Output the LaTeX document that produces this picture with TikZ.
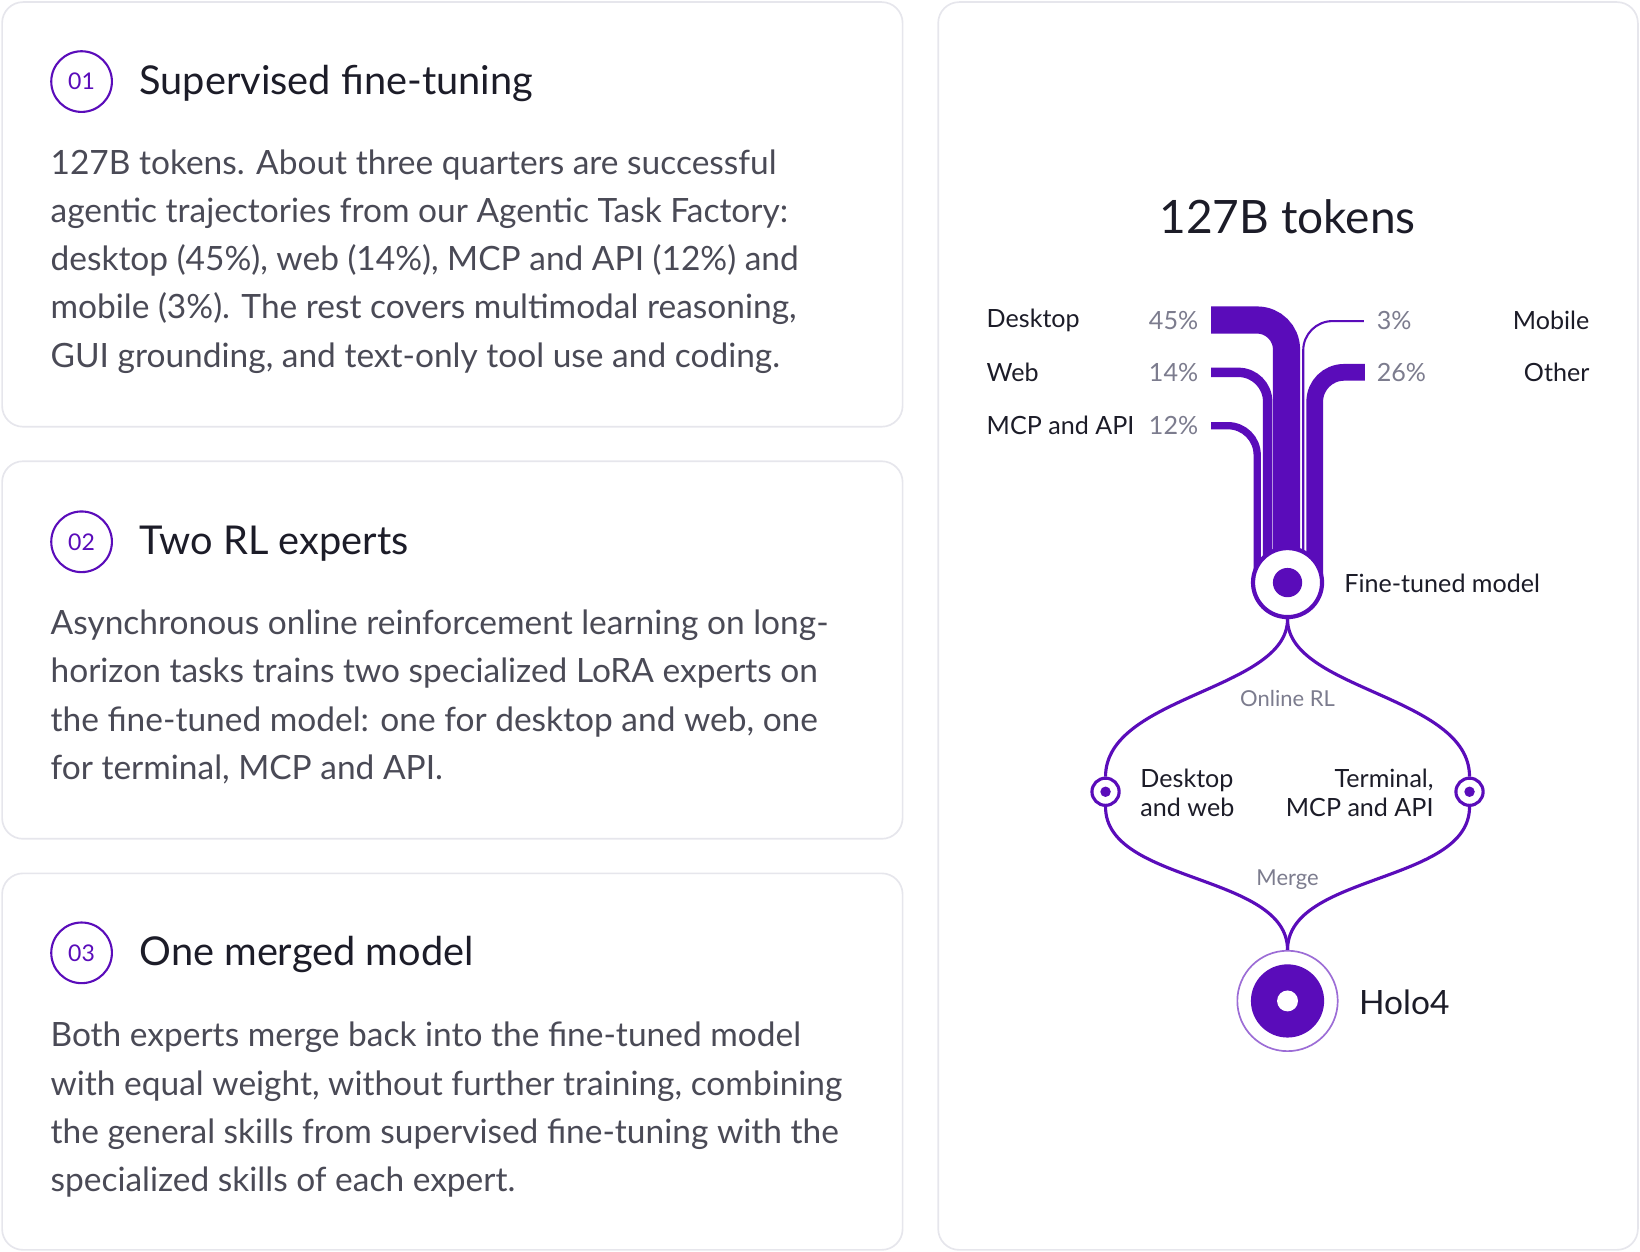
\documentclass[tikz,border=0pt]{standalone}
\usepackage{fontspec}
\setmainfont{Lato}
\usetikzlibrary{positioning}
\definecolor{holo}{HTML}{5A0CBA}
\definecolor{ink}{HTML}{1C1C28}
\definecolor{body}{HTML}{4A4A56}
\definecolor{muted}{HTML}{7C7C8E}
\definecolor{edge}{HTML}{E6E6EC}
\begin{document}
\begin{tikzpicture}[x=0.5pt,y=-0.5pt,
  card/.style={draw=edge,line width=0.8pt,rounded corners=10pt,fill=white},
  num/.style={draw=holo,circle,line width=1pt,minimum size=29pt,inner sep=0pt,text=holo,font=\fontsize{11}{13}\selectfont},
  head/.style={anchor=west,text=ink,font=\fontsize{19}{23}\selectfont,inner sep=0pt},
  txt/.style={anchor=north west,align=left,text=body,font=\fontsize{16}{23}\selectfont,inner sep=0pt},
  lab/.style={text=ink,font=\fontsize{12}{14}\selectfont,inner sep=0pt},
  pct/.style={text=muted,font=\fontsize{12}{14}\selectfont,inner sep=0pt},
  band/.style={holo,rounded corners=14pt},
  flow/.style={holo,line width=1.5pt}]
  \useasboundingbox (0,0) rectangle (1568,1197);
  % cards
  \draw[card] (2,2) rectangle (863,408);
  \draw[card] (2,441) rectangle (863,802);
  \draw[card] (2,835) rectangle (863,1195);
  \draw[card] (897,2) rectangle (1566,1195);

  % card 01
  \node[num] (n1) at (78,78) {01};
  \node[head] (h1) at (133,80) {Supervised fine-tuning};
  \node[txt] (t1) at (48,143) {127B tokens. About three quarters are successful\\agentic trajectories from our Agentic Task Factory:\\desktop (45\%), web (14\%), MCP and API (12\%) and\\mobile (3\%). The rest covers multimodal reasoning,\\GUI grounding, and text-only tool use and coding.};

  % card 02
  \node[num] (n2) at (78,518) {02};
  \node[head] (h2) at (133,520) {Two RL experts};
  \node[txt] (t2) at (48,583) {Asynchronous online reinforcement learning on long-\\horizon tasks trains two specialized LoRA experts on\\the fine-tuned model: one for desktop and web, one\\for terminal, MCP and API.};

  % card 03
  \node[num] (n3) at (78,911) {03};
  \node[head] (h3) at (133,913) {One merged model};
  \node[txt] (t3) at (48,977) {Both experts merge back into the fine-tuned model\\with equal weight, without further training, combining\\the general skills from supervised fine-tuning with the\\specialized skills of each expert.};

  % right panel
  \node[text=ink,font=\fontsize{22}{26}\selectfont,inner sep=0pt] (title) at (1231,207) {127B tokens};
  \node[lab,anchor=west] (ldesk) at (943,306) {Desktop};
  \node[lab,anchor=west] (lweb) at (943,356) {Web};
  \node[lab,anchor=west] (lmcp) at (943,407) {MCP and API};
  \node[pct,anchor=east] (pdesk) at (1146,306) {45\%};
  \node[pct,anchor=east] (pweb) at (1146,356) {14\%};
  \node[pct,anchor=east] (pmcp) at (1146,407) {12\%};
  \node[pct,anchor=west] (pmob) at (1316,306) {3\%};
  \node[pct,anchor=west] (poth) at (1316,356) {26\%};
  \node[lab,anchor=east] (lmob) at (1520,306) {Mobile};
  \node[lab,anchor=east] (loth) at (1520,356) {Other};

  \coordinate (sdesk) at (1158,306);
  \coordinate (sweb) at (1158,356);
  \coordinate (smcp) at (1158,407);
  \coordinate (smob) at (1304,307);
  \coordinate (soth) at (1305,356);

  \draw[band,line width=13pt] (sdesk) -- (1230,306) -- (1230,550);
  \draw[band,line width=4.5pt] (sweb) -- (1212,356) -- (1212,550);
  \draw[band,line width=3.5pt] (smcp) -- (1202,407) -- (1202,550);
  \draw[band,line width=1pt] (smob) -- (1246,307) -- (1246,550);
  \draw[band,line width=8pt] (soth) -- (1257,356) -- (1257,550);

  \node[circle,draw=holo,line width=2pt,fill=white,minimum size=33pt,inner sep=0pt] (ft) at (1231,557) {};
  \fill[holo] (ft.center) circle (14);
  \node[lab,anchor=west] (lft) at (1285,558) {Fine-tuned model};

  \node[circle,draw=holo,line width=1.5pt,fill=white,minimum size=13pt,inner sep=0pt] (edw) at (1057,757) {};
  \fill[holo] (edw.center) circle (5);
  \node[circle,draw=holo,line width=1.5pt,fill=white,minimum size=13pt,inner sep=0pt] (etm) at (1405,757) {};
  \fill[holo] (etm.center) circle (5);

  \node[circle,draw=holo!60,line width=0.8pt,fill=white,minimum size=48pt,inner sep=0pt] (holo) at (1231,957) {};
  \fill[holo] (holo.center) circle (35);
  \fill[white] (holo.center) circle (10);

  \draw[flow] (ft.south) .. controls (1231,660) and (1057,665) .. (edw.north);
  \draw[flow] (ft.south) .. controls (1231,660) and (1405,665) .. (etm.north);
  \draw[flow] (edw.south) .. controls (1057,845) and (1231,835) .. (holo.north);
  \draw[flow] (etm.south) .. controls (1405,845) and (1231,835) .. (holo.north);

  \node[pct,font=\fontsize{10.5}{12}\selectfont] (lrl) at (1231,668) {Online RL};
  \node[pct,font=\fontsize{10.5}{12}\selectfont] (lmerge) at (1231,841) {Merge};
  \node[lab,anchor=west,align=left,font=\fontsize{12}{13.5}\selectfont] (ldw) at (1090,758) {Desktop\\and web};
  \node[lab,anchor=east,align=right,font=\fontsize{12}{13.5}\selectfont] (ltm) at (1371,758) {Terminal,\\MCP and API};
  \node[text=ink,font=\fontsize{16}{18}\selectfont,inner sep=0pt,anchor=west] (lholo) at (1299,958) {Holo4};
\end{tikzpicture}
\end{document}
